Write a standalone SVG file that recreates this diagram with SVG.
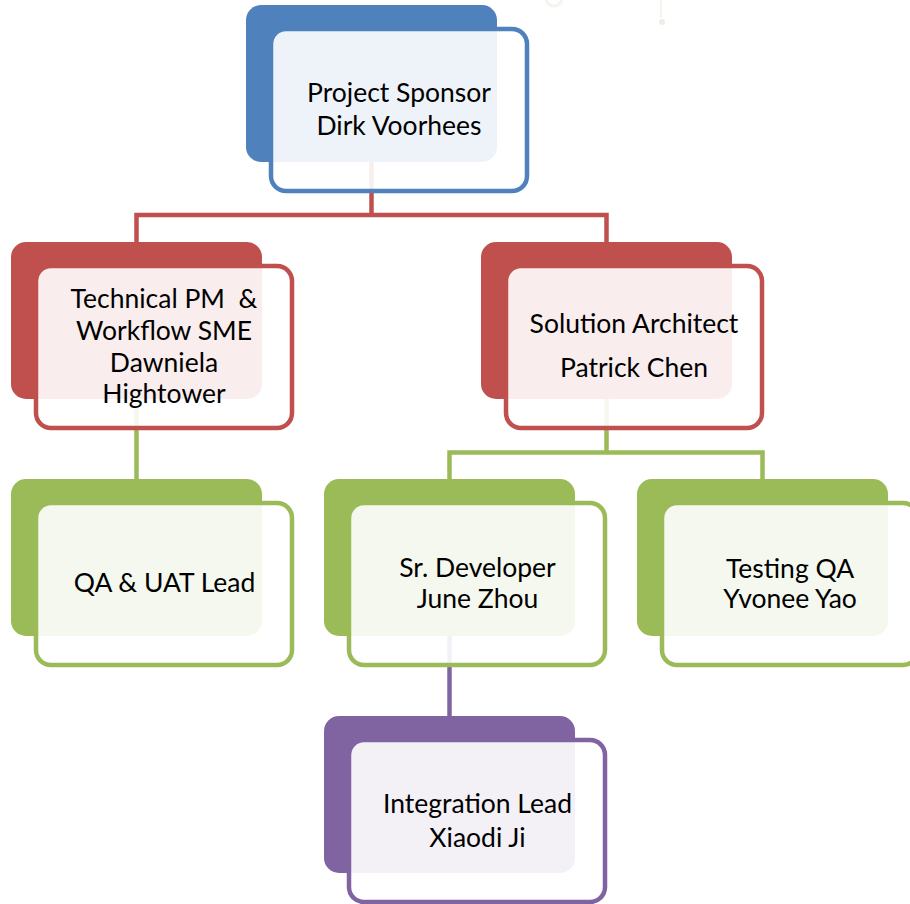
<svg xmlns="http://www.w3.org/2000/svg" width="910" height="904" viewBox="0 0 910 904">
<style>
.back{stroke:none}
.front{fill:#ffffff;fill-opacity:0.9;stroke-width:4.5}
.conn{fill:none;stroke-width:4.5;stroke-linejoin:miter;stroke-linecap:butt}
.t{font-family:Lato,"Liberation Sans",sans-serif;font-size:26.5px;fill:#000;text-anchor:middle;white-space:pre}
.blue .back{fill:#4F81BD}.blue .front{stroke:#4F81BD}
.red .back{fill:#C0504D}.red .front{stroke:#C0504D}
.green .back{fill:#9BBB59}.green .front{stroke:#9BBB59}
.purple .back{fill:#8064A2}.purple .front{stroke:#8064A2}
</style>
<rect width="910" height="904" fill="#ffffff"/>
<g id="decor" opacity="0.3">
<circle cx="554" cy="-2" r="8" fill="none" stroke="#d6e2cc" stroke-width="3"/>
<line x1="661" y1="0" x2="661" y2="18" stroke="#d6e6c8" stroke-width="2"/>
<circle cx="662" cy="22" r="3" fill="#b9d3a3"/>
</g>
<g id="connectors">
<path class="conn" stroke="#C0504D" d="M371.5 162 V215 M136.5 242 V215 H606.5 V242"/>
<path class="conn" stroke="#9BBB59" d="M136.5 399 V479 M606.5 398 V452.5 M449.5 479 V452.5 H762.5 V479"/>
<path class="conn" stroke="#8064A2" d="M449.5 636 V716"/>
</g>
<g id="sponsor" class="blue">
<rect class="back" x="246" y="5" width="251" height="157" rx="15"/>
<rect class="front" x="271" y="29" width="256" height="162" rx="15"/>
<text class="t" x="399" y="102">Project Sponsor</text>
<text class="t" x="399" y="135">Dirk Voorhees</text>
</g>
<g id="technical-pm" class="red">
<rect class="back" x="11" y="242" width="251" height="157" rx="15"/>
<rect class="front" x="36" y="266" width="256" height="162" rx="15"/>
<text class="t" x="164" y="308" xml:space="preserve">Technical PM  &amp;</text>
<text class="t" x="164" y="340">Workflow SME</text>
<text class="t" x="164" y="372">Dawniela</text>
<text class="t" x="164" y="403">Hightower</text>
</g>
<g id="solution-architect" class="red">
<rect class="back" x="481" y="242" width="251" height="157" rx="15"/>
<rect class="front" x="506" y="266" width="256" height="162" rx="15"/>
<text class="t" x="634" y="333">Solution Architect</text>
<text class="t" x="634" y="377">Patrick Chen</text>
</g>
<g id="qa-uat" class="green">
<rect class="back" x="11" y="479" width="251" height="157" rx="15"/>
<rect class="front" x="36" y="503" width="256" height="162" rx="15"/>
<text class="t" x="164.5" y="592">QA &amp; UAT Lead</text>
</g>
<g id="sr-developer" class="green">
<rect class="back" x="324" y="479" width="251" height="157" rx="15"/>
<rect class="front" x="349" y="503" width="256" height="162" rx="15"/>
<text class="t" x="477.5" y="577">Sr. Developer</text>
<text class="t" x="477.5" y="608">June Zhou</text>
</g>
<g id="testing-qa" class="green">
<rect class="back" x="637" y="479" width="251" height="157" rx="15"/>
<rect class="front" x="662" y="503" width="256" height="162" rx="15"/>
<text class="t" x="790" y="578">Testing QA</text>
<text class="t" x="790" y="608">Yvonee Yao</text>
</g>
<g id="integration-lead" class="purple">
<rect class="back" x="324" y="716" width="251" height="157" rx="15"/>
<rect class="front" x="349" y="740" width="256" height="162" rx="15"/>
<text class="t" x="477.5" y="813">Integration Lead</text>
<text class="t" x="477.5" y="847">Xiaodi Ji</text>
</g>
</svg>
